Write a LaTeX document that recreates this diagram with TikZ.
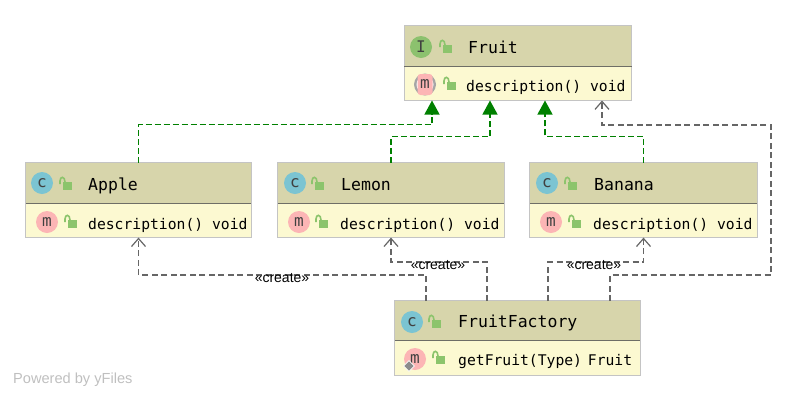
\documentclass[tikz,border=0pt]{standalone}
\usepackage{fontspec}
\setmonofont{DejaVu Sans Mono}
\setsansfont{Liberation Sans}
\usetikzlibrary{arrows.meta}
\usetikzlibrary{positioning}
\usetikzlibrary{shapes.geometric}
\definecolor{headfill}{HTML}{D7D5AB}
\definecolor{bodyfill}{HTML}{FCF9D1}
\definecolor{boxline}{HTML}{C4C4C4}
\definecolor{ruleline}{HTML}{6E6E66}
\definecolor{classblue}{HTML}{7BC4D2}
\definecolor{methodpink}{HTML}{FCB5B5}
\definecolor{facegreen}{HTML}{8CC16E}
\definecolor{lockgreen}{HTML}{8CC46C}
\definecolor{realgreen}{HTML}{008000}
\definecolor{depgrey}{HTML}{666666}
\tikzset{
  classhead/.style={rectangle, fill=headfill, draw=none, inner sep=0pt, minimum height=40pt},
  classbody/.style={rectangle, fill=bodyfill, draw=none, inner sep=0pt, minimum height=34pt},
  icon/.style={circle, inner sep=0pt, minimum size=22pt, text=black!75,
    font=\ttfamily\fontsize{16}{16}\selectfont},
  classname/.style={anchor=west, inner sep=0pt, text height=12pt, text depth=3pt,
    font=\ttfamily\fontsize{16.5}{16.5}\selectfont},
  member/.style={anchor=west, inner sep=0pt, text height=12pt, text depth=3pt,
    font=\ttfamily\fontsize{14.7}{15}\selectfont},
  create/.style={inner sep=0pt, font=\sffamily\fontsize{14}{14}\selectfont},
  realize/.style={realgreen, line width=1.2pt, dash pattern=on 6pt off 3pt,
    -{Triangle[length=14pt,width=15pt,fill=realgreen]}},
  depend/.style={depgrey, line width=1.2pt, dash pattern=on 6pt off 3.5pt,
    -{Straight Barb[length=8pt,width=14pt,line width=1.2pt]}},
  lockicon/.pic={
    \fill[lockgreen] (-3,-2) rectangle (6,6);
    \draw[lockgreen, line width=1.6pt] (-6,0) -- (-6,-3) .. controls (-6,-8) and (-1,-8) .. (-1,-2);
  }
}
\begin{document}
\begin{tikzpicture}[x=1pt,y=-1pt]
\useasboundingbox (0,0) rectangle (796,400);
% interface
\node[classhead, minimum width=227pt] (fruitHead) at (518,46) {};
\node[classbody, minimum width=227pt, below=0pt of fruitHead] (fruitBody) {};
% classes
\node[classhead, minimum width=225pt] (appleHead) at (138.5,183) {};
\node[classbody, minimum width=225pt, below=0pt of appleHead] (appleBody) {};
\node[classhead, minimum width=226pt] (lemonHead) at (391,183) {};
\node[classbody, minimum width=226pt, below=0pt of lemonHead] (lemonBody) {};
\node[classhead, minimum width=227pt] (bananaHead) at (643.5,183) {};
\node[classbody, minimum width=227pt, below=0pt of bananaHead] (bananaBody) {};
\node[classhead, minimum width=245pt] (factoryHead) at (517.5,320.5) {};
\node[classbody, minimum width=245pt, below=0pt of factoryHead] (factoryBody) {};
\foreach \cls in {fruit,apple,lemon,banana,factory}{
  \draw[boxline, line width=1.2pt] (\cls Head.north west) rectangle (\cls Body.south east);
  \draw[ruleline, line width=1pt] (\cls Head.south west) -- (\cls Head.south east);
}
% fruit
\node[icon, fill=facegreen] (fruitIcon) at (421,47) {I};
\pic at (446,47) {lockicon};
\node[classname] (fruitName) at (468,48.5) {Fruit};
\node[circle, fill=black!35, minimum size=22pt, inner sep=0pt] (fruitRing) at (425,84.5) {};
\node[circle, fill=white, minimum size=17pt, inner sep=0pt] (fruitHole) at (425,84.5) {};
\node[rectangle, rounded corners=3pt, fill=methodpink, minimum width=15pt, minimum height=21pt, inner sep=0pt,
  text=black!75, font=\ttfamily\fontsize{16}{16}\selectfont] (fruitMethod) at (425,84.5) {m};
\pic at (450,84) {lockicon};
\node[member] (fruitText) at (466,87) {description() void};
% apple
\node[icon, fill=classblue] (appleIcon) at (42,183) {c};
\pic at (66,184) {lockicon};
\node[classname] (appleName) at (88,185.5) {Apple};
\node[icon, fill=methodpink] (appleMethod) at (47,222) {m};
\pic at (71,222) {lockicon};
\node[member] (appleText) at (88,224.5) {description() void};
% lemon
\node[icon, fill=classblue] (lemonIcon) at (295,183) {c};
\pic at (318,184) {lockicon};
\node[classname] (lemonName) at (341,185.5) {Lemon};
\node[icon, fill=methodpink] (lemonMethod) at (299,222) {m};
\pic at (322,222) {lockicon};
\node[member] (lemonText) at (340,224.5) {description() void};
% banana
\node[icon, fill=classblue] (bananaIcon) at (547,183) {c};
\pic at (571,184) {lockicon};
\node[classname] (bananaName) at (594,185.5) {Banana};
\node[icon, fill=methodpink] (bananaMethod) at (551,222) {m};
\pic at (575,222) {lockicon};
\node[member] (bananaText) at (593,224.5) {description() void};
% factory
\node[icon, fill=classblue] (factoryIcon) at (412,322) {c};
\pic at (435,322) {lockicon};
\node[classname] (factoryName) at (458,323) {FruitFactory};
\node[icon, fill=methodpink] (factoryMethod) at (415,359) {m};
\node[diamond, fill=black!45, draw=white, line width=0.6pt, minimum size=11pt, inner sep=0pt] (factoryStatic) at (409,366) {};
\pic at (439,358) {lockicon};
\node[member] (factoryText) at (458,361) {getFruit(Type)\hspace{-3pt} Fruit};
% free ends on the boxes
\coordinate (fruitA) at (432,100.5);
\coordinate (fruitL) at (490,100.5);
\coordinate (fruitB) at (545,100.5);
\coordinate (fruitF) at (602,100.5);
\coordinate (facA) at (426,301);
\coordinate (facL) at (487,301);
\coordinate (facB) at (548,301);
\coordinate (facF) at (610,301);
% inheritance
\draw[realize] (appleHead.north) -- ++(0,-38) -| (fruitA);
\draw[realize] (lemonHead.north) -- ++(0,-26) -| (fruitL);
\draw[realize] (bananaHead.north) -- ++(0,-26) -| (fruitB);
% factory
\draw[depend] (facA) -- ++(0,-26) -| (appleBody.south);
\draw[depend] (facL) -- ++(0,-39) -| (lemonBody.south);
\draw[depend] (facB) -- ++(0,-39) -| (bananaBody.south);
\draw[depend] (facF) -- ++(0,-26) -- ++(161,0) -- ++(0,-150) -| (fruitF);
\node[create] (createA) at (282,278) {«create»};
\node[create] (createL) at (438,265) {«create»};
\node[create] (createB) at (594,265) {«create»};
\node[anchor=west, inner sep=0pt, text=black!25, font=\sffamily\fontsize{14.6}{14.6}\selectfont] (powered) at (13,380) {Powered by yFiles};
\end{tikzpicture}
\end{document}
